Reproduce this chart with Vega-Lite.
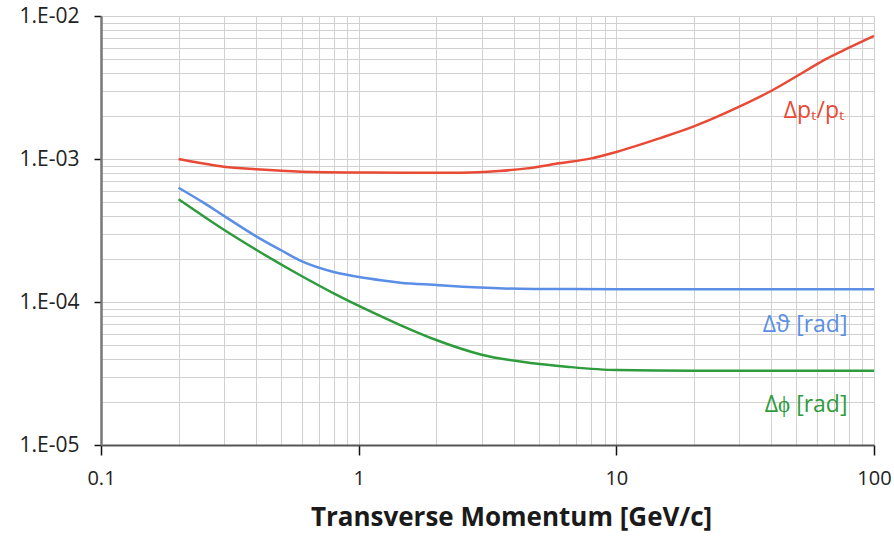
{
  "$schema": "https://vega.github.io/schema/vega-lite/v6.json",
  "width": 773,
  "height": 429,
  "autosize": {"type": "none"},
  "padding": {"left": 101, "top": 16, "right": 20, "bottom": 98},
  "background": "white",
  "config": {
    "view": {"stroke": null},
    "font": "Open Sans"
  },
  "encoding": {
    "x": {
      "field": "pt", "type": "quantitative",
      "scale": {"type": "log", "domain": [0.1, 100], "nice": false},
      "axis": {
        "title": "Transverse Momentum [GeV/c]",
        "titleFont": "Open Sans", "titleFontSize": 26, "titleFontWeight": "bold", "titleColor": "#1a1a1a", "titlePadding": 16, "titleX": 410,
        "values": [0.1,0.2,0.3,0.4,0.5,0.6,0.7,0.8,0.9,1,2,3,4,5,6,7,8,9,10,20,30,40,50,60,70,80,90,100],
        "labelExpr": "abs(log(datum.value)/LN10 - round(log(datum.value)/LN10)) < 0.000001 ? format(datum.value, '~g') : ''",
        "labelOverlap": false, "labelFlush": false,
        "labelFont": "Open Sans", "labelFontSize": 20, "labelColor": "#222222", "labelPadding": 13,
        "grid": true, "gridColor": "#d0d0d0", "gridWidth": 1,
        "domain": true, "domainColor": "#555555", "domainWidth": 2,
        "ticks": true, "tickSize": 10, "tickColor": "#111111", "tickWidth": 1.5,
        "tickOpacity": {"condition": {"test": "abs(log(datum.value)/LN10 - round(log(datum.value)/LN10)) < 0.000001", "value": 1}, "value": 0}
      }
    },
    "y": {
      "field": "res", "type": "quantitative",
      "scale": {"type": "log", "domain": [0.00001, 0.01], "nice": false},
      "axis": {
        "title": null,
        "values": [0.00001,0.00002,0.00003,0.00004,0.00005,0.00006,0.00007,0.00008,0.00009,0.0001,0.0002,0.0003,0.0004,0.0005,0.0006,0.0007,0.0008,0.0009,0.001,0.002,0.003,0.004,0.005,0.006,0.007,0.008,0.009,0.01],
        "labelExpr": "abs(log(datum.value)/LN10 - round(log(datum.value)/LN10)) < 0.000001 ? '1.E-0' + round(-log(datum.value)/LN10) : ''",
        "labelOverlap": false, "labelFlush": false,
        "labelFont": "Open Sans", "labelFontSize": 21, "labelColor": "#222222", "labelPadding": 15,
        "grid": true, "gridColor": "#d0d0d0", "gridWidth": 1,
        "domain": true, "domainColor": "#777777", "domainWidth": 2.5,
        "ticks": true, "tickSize": 7, "tickColor": "#111111", "tickWidth": 1.5,
        "tickOpacity": {"condition": {"test": "abs(log(datum.value)/LN10 - round(log(datum.value)/LN10)) < 0.000001", "value": 1}, "value": 0}
      }
    },
    "color": {
      "field": "series", "type": "nominal",
      "scale": {"domain": ["dpt", "dtheta", "dphi"], "range": ["#E84A35", "#5B8EE6", "#2E9B3C"]},
      "legend": null
    }
  },
  "layer": [
    {
      "data": {"values": [
        {"series": "dpt", "pt": 0.2, "res": 0.00100},
        {"series": "dpt", "pt": 0.25, "res": 0.00093},
        {"series": "dpt", "pt": 0.3, "res": 0.000883},
        {"series": "dpt", "pt": 0.4, "res": 0.000847},
        {"series": "dpt", "pt": 0.6, "res": 0.000815},
        {"series": "dpt", "pt": 1, "res": 0.000805},
        {"series": "dpt", "pt": 1.5, "res": 0.000803},
        {"series": "dpt", "pt": 2.5, "res": 0.000802},
        {"series": "dpt", "pt": 3.5, "res": 0.000824},
        {"series": "dpt", "pt": 4.5, "res": 0.00086},
        {"series": "dpt", "pt": 6, "res": 0.000933},
        {"series": "dpt", "pt": 8, "res": 0.00101},
        {"series": "dpt", "pt": 10, "res": 0.00112},
        {"series": "dpt", "pt": 14.8, "res": 0.00140},
        {"series": "dpt", "pt": 20, "res": 0.00169},
        {"series": "dpt", "pt": 30, "res": 0.00232},
        {"series": "dpt", "pt": 40, "res": 0.00300},
        {"series": "dpt", "pt": 55, "res": 0.00419},
        {"series": "dpt", "pt": 65, "res": 0.00500},
        {"series": "dpt", "pt": 80, "res": 0.00600},
        {"series": "dpt", "pt": 100, "res": 0.00725},
        {"series": "dtheta", "pt": 0.2, "res": 0.00063},
        {"series": "dtheta", "pt": 0.25, "res": 0.000495},
        {"series": "dtheta", "pt": 0.3, "res": 0.000400},
        {"series": "dtheta", "pt": 0.4, "res": 0.000288},
        {"series": "dtheta", "pt": 0.5, "res": 0.000230},
        {"series": "dtheta", "pt": 0.6, "res": 0.000193},
        {"series": "dtheta", "pt": 0.8, "res": 0.000162},
        {"series": "dtheta", "pt": 1.08, "res": 0.0001465},
        {"series": "dtheta", "pt": 1.45, "res": 0.0001365},
        {"series": "dtheta", "pt": 2, "res": 0.0001315},
        {"series": "dtheta", "pt": 2.8, "res": 0.0001267},
        {"series": "dtheta", "pt": 4.75, "res": 0.0001233},
        {"series": "dtheta", "pt": 10, "res": 0.000123},
        {"series": "dtheta", "pt": 30, "res": 0.000123},
        {"series": "dtheta", "pt": 100, "res": 0.000123},
        {"series": "dphi", "pt": 0.2, "res": 0.000523},
        {"series": "dphi", "pt": 0.25, "res": 0.000398},
        {"series": "dphi", "pt": 0.3, "res": 0.000320},
        {"series": "dphi", "pt": 0.4, "res": 0.000232},
        {"series": "dphi", "pt": 0.6, "res": 0.000152},
        {"series": "dphi", "pt": 0.8, "res": 0.000115},
        {"series": "dphi", "pt": 1.08, "res": 0.000088},
        {"series": "dphi", "pt": 1.45, "res": 0.000069},
        {"series": "dphi", "pt": 2, "res": 0.0000542},
        {"series": "dphi", "pt": 3, "res": 0.0000428},
        {"series": "dphi", "pt": 4.75, "res": 0.0000373},
        {"series": "dphi", "pt": 6.4, "res": 0.0000353},
        {"series": "dphi", "pt": 10, "res": 0.0000334},
        {"series": "dphi", "pt": 20, "res": 0.000033},
        {"series": "dphi", "pt": 100, "res": 0.000033}
      ]},
      "mark": {"type": "line", "strokeWidth": 2.5, "interpolate": "monotone", "clip": true}
    },
    {
      "data": {"values": [
        {"series": "dpt", "label": "Δpₜ/pₜ", "pt": 58.5, "res": 0.00215},
        {"series": "dtheta", "label": "Δϑ [rad]", "pt": 54.0, "res": 0.000069},
        {"series": "dphi", "label": "Δϕ [rad]", "pt": 54.5, "res": 0.000019}
      ]},
      "mark": {"type": "text", "font": "Open Sans", "fontSize": 23, "align": "center", "baseline": "middle"},
      "encoding": {"text": {"field": "label", "type": "nominal"}}
    }
  ]
}
